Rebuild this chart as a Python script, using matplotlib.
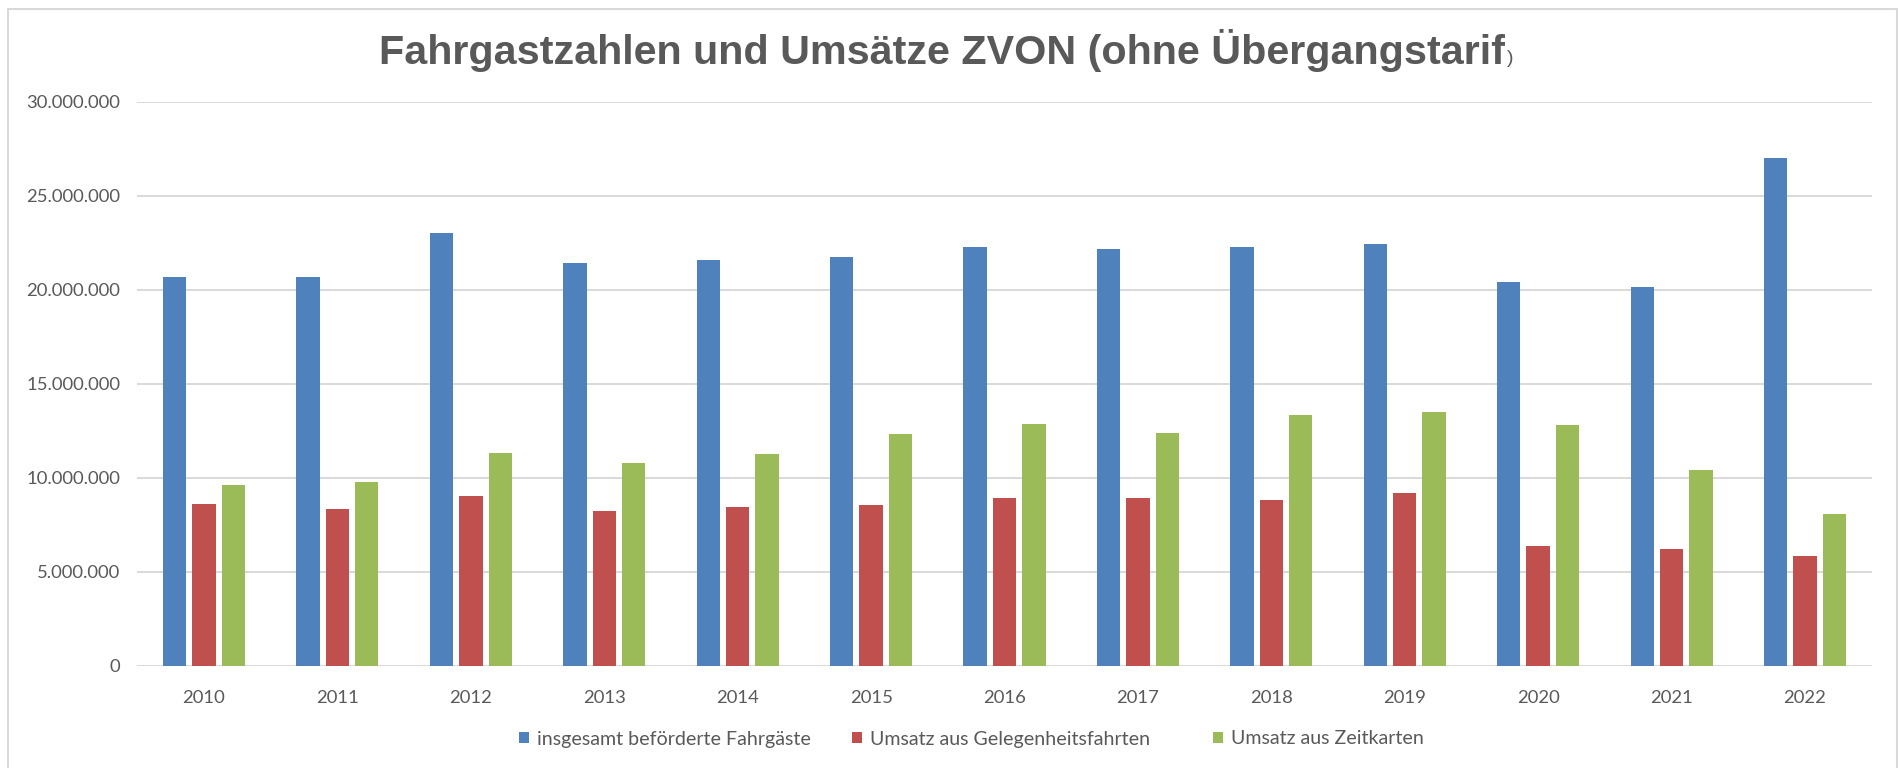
import matplotlib
matplotlib.use("Agg")
import matplotlib.pyplot as plt
from matplotlib.patches import Patch, Rectangle
from matplotlib.ticker import FuncFormatter, MultipleLocator
import numpy as np

years = ["2010", "2011", "2012", "2013", "2014", "2015", "2016",
         "2017", "2018", "2019", "2020", "2021", "2022"]
fahrgaeste = [20.66, 20.66, 22.98, 21.43, 21.56, 21.74, 22.27,
              22.16, 22.28, 22.44, 20.38, 20.14, 27.02]
gelegenheit = [8.60, 8.30, 9.01, 8.24, 8.42, 8.54, 8.90,
               8.90, 8.78, 9.20, 6.36, 6.18, 5.84]
zeitkarten = [9.60, 9.76, 11.32, 10.78, 11.26, 12.32, 12.86,
              12.38, 13.32, 13.50, 12.80, 10.38, 8.06]
series_labels = ["insgesamt beförderte Fahrgäste",
                 "Umsatz aus Gelegenheitsfahrten",
                 "Umsatz aus Zeitkarten"]
title_text = "Fahrgastzahlen und Umsätze ZVON (ohne Übergangstarif"

colors = ["#4F81BD", "#C0504D", "#9BBB59"]
text_col = "#595959"
grid_col = "#D9D9D9"
W, H = 1899, 768

fig = plt.figure(figsize=(W / 100, H / 100), dpi=100)
fig.patch.set_facecolor("white")

ax = fig.add_axes([137.3 / W, 1 - 665.5 / H, (1871.7 - 137.3) / W, (665.5 - 101.5) / H])

x = np.arange(len(years))
bw = 0.175
off = 0.22
data = [fahrgaeste, gelegenheit, zeitkarten]
for i, (vals, c) in enumerate(zip(data, colors)):
    ax.bar(x + (i - 1) * off, np.array(vals) * 1e6, width=bw, color=c, zorder=3)

ax.set_xlim(-0.5, len(years) - 0.5)
ax.set_ylim(0, 30e6)
ax.yaxis.set_major_locator(MultipleLocator(5e6))
ax.yaxis.set_major_formatter(FuncFormatter(lambda v, p: f"{int(v):,}".replace(",", ".")))
ax.grid(axis="y", color=grid_col, linewidth=1.4, zorder=0)
ax.set_axisbelow(True)
for s in ax.spines.values():
    s.set_visible(False)
ax.set_xticks(x)
ax.set_xticklabels(years)
ax.tick_params(axis="both", length=0, colors=text_col, labelsize=13.3)
ax.tick_params(axis="y", pad=12.4)
ax.tick_params(axis="x", pad=17.5)
for lab in ax.get_xticklabels() + ax.get_yticklabels():
    lab.set_fontfamily(["Lato", "DejaVu Sans"])
    lab.set_color(text_col)

t = fig.text(379 / W, 1 - 64 / H, title_text, ha="left", va="baseline",
             fontsize=29.7, fontweight="bold", color=text_col,
             family=["Liberation Sans", "DejaVu Sans"])
ax.annotate(")", xy=(1.0, 0.0), xycoords=t, xytext=(2, 9), textcoords="offset pixels",
            ha="left", va="baseline", fontsize=14, color=text_col,
            family=["Liberation Sans", "DejaVu Sans"], annotation_clip=False)

# legend entries (Excel spaces them unevenly, so each entry is placed on its own)
legend_left_px = [519, 852, 1213]
for c, lab, lx in zip(colors, series_labels, legend_left_px):
    lg = fig.legend([Patch(facecolor=c, edgecolor="none")], [lab], loc="center left",
                    bbox_to_anchor=(lx / W, 1 - 739 / H), frameon=False,
                    borderpad=0, borderaxespad=0,
                    handlelength=0.5, handleheight=0.5, handletextpad=0.4,
                    prop={"family": ["Lato", "DejaVu Sans"], "size": 14.1})
    for txt in lg.get_texts():
        txt.set_color(text_col)

fig.patches.append(Rectangle((8 / W, -0.02), (1897 - 8) / W, (H - 9) / H + 0.02,
                             transform=fig.transFigure, fill=False,
                             edgecolor=grid_col, linewidth=1.5))

fig.savefig("out.png", dpi=100, facecolor="white")
